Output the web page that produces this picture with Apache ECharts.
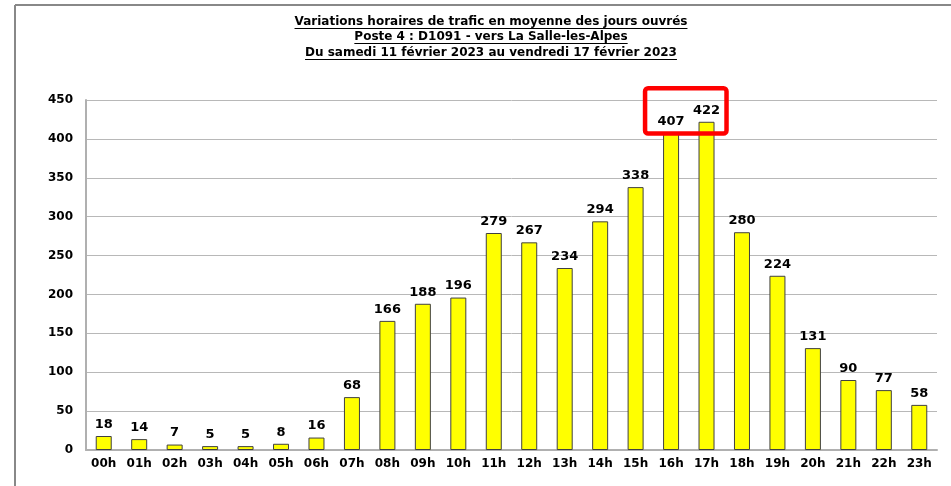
<!DOCTYPE html>
<html>
<head>
<meta charset="utf-8">
<script src="https://cdn.jsdelivr.net/npm/echarts@6/dist/echarts.min.js"></script>
<style>
  html, body { margin: 0; padding: 0; background: #fff; }
  #chart { width: 951px; height: 486px; }
</style>
</head>
<body>
<div id="chart"></div>
<script>
// heures de la journée
const hours = ['00h','01h','02h','03h','04h','05h','06h','07h','08h','09h','10h','11h',
  '12h','13h','14h','15h','16h','17h','18h','19h','20h','21h','22h','23h']
// trafic moyen par heure (jours ouvrés)
const traffic = [18, 14, 7, 5, 5, 8, 16, 68, 166, 188, 196, 279,
  267, 234, 294, 338, 407, 422, 280, 224, 131, 90, 77, 58]
const titleLines = [
  'Variations horaires de trafic en moyenne des jours ouvrés',
  'Poste 4 : D1091 - vers La Salle-les-Alpes',
  'Du samedi 11 février 2023 au vendredi 17 février 2023'
]
const highlight = ['16h', '17h']  // heures de pointe encadrées en rouge

const font = 'DejaVu Sans'
const chart = echarts.init(document.getElementById('chart'), null, { renderer: 'canvas' })

// mesure des titres pour le soulignement
const ctx = document.createElement('canvas').getContext('2d')
ctx.font = 'bold 12px "' + font + '"'
const titleY = [22, 37, 53]
const cx = 491
const titleGraphics = []
titleLines.forEach((t, i) => {
  const w = ctx.measureText(t).width
  titleGraphics.push({
    type: 'text', x: cx, y: titleY[i],
    style: { text: t, font: 'bold 12px "' + font + '"', fill: '#000', align: 'center', verticalAlign: 'middle' }
  })
  titleGraphics.push({
    type: 'line', shape: { x1: cx - w / 2, y1: titleY[i] + 6.5, x2: cx + w / 2, y2: titleY[i] + 6.5 },
    style: { stroke: '#000', lineWidth: 1 }
  })
})
// cadre gris
const frame = [
  { type: 'line', shape: { x1: 15, y1: 5, x2: 951, y2: 5 }, style: { stroke: '#888', lineWidth: 2 } },
  { type: 'line', shape: { x1: 15, y1: 5, x2: 15, y2: 486 }, style: { stroke: '#888', lineWidth: 2 } }
]

const option = {
  animation: false,
  grid: { left: 86, right: 14, top: 100, bottom: 36 },
  xAxis: {
    type: 'category',
    data: hours,
    axisLine: { lineStyle: { color: '#b0b0b0', width: 2 } },
    axisTick: { show: false },
    axisLabel: { color: '#000', fontWeight: 'bold', fontSize: 12, fontFamily: font, margin: 8 }
  },
  yAxis: {
    type: 'value',
    min: 0, max: 450, interval: 50,
    axisLine: { show: true, lineStyle: { color: '#b0b0b0', width: 2 } },
    axisTick: { show: false },
    splitLine: { lineStyle: { color: '#b8b8b8', width: 1 } },
    axisLabel: { color: '#000', fontWeight: 'bold', fontSize: 12, fontFamily: font, margin: 13 }
  },
  series: [{
    type: 'bar',
    data: traffic,
    barWidth: 16,
    itemStyle: { color: '#ffff00', borderColor: '#404040', borderWidth: 1 },
    label: {
      show: true, position: 'top', distance: 5,
      color: '#000', fontWeight: 'bold', fontSize: 13, fontFamily: font
    }
  }],
  graphic: titleGraphics.concat(frame)
}
chart.setOption(option)

// encadré rouge autour des deux heures de pointe
const p1 = chart.convertToPixel({ seriesIndex: 0 }, [highlight[0], 0])
const p2 = chart.convertToPixel({ seriesIndex: 0 }, [highlight[1], 0])
const boxTop = chart.convertToPixel({ seriesIndex: 0 }, [highlight[1], 465])[1]
const boxBot = chart.convertToPixel({ seriesIndex: 0 }, [highlight[0], 407])[1]
chart.setOption({
  graphic: titleGraphics.concat(frame, [{
    type: 'rect', z: 100,
    shape: { x: p1[0] - 26, y: boxTop, width: p2[0] - p1[0] + 46, height: boxBot - boxTop, r: 3 },
    style: { fill: 'none', stroke: '#ff0000', lineWidth: 4.5 }
  }])
}, { replaceMerge: ['graphic'] })
</script>
</body>
</html>
